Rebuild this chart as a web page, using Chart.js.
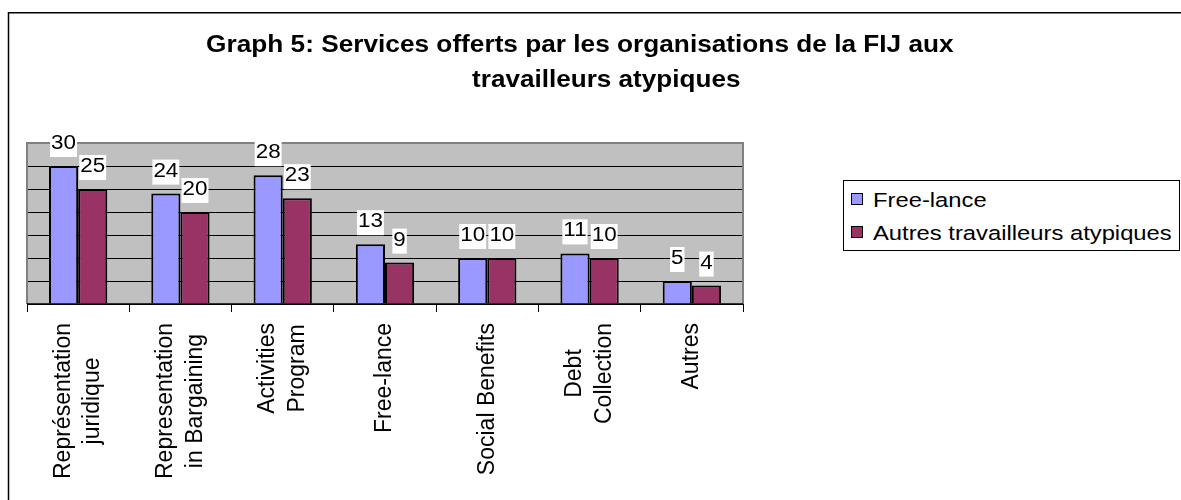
<!DOCTYPE html>
<html>
<head>
<meta charset="utf-8">
<script src="https://cdn.jsdelivr.net/npm/chart.js@4.4.0/dist/chart.umd.min.js"></script>
<style>
  body { margin: 0; background: #fff; }
  #wrap { position: relative; width: 1181px; height: 500px; overflow: hidden; font-family: "Liberation Sans", Arial, sans-serif; }
  #wrap canvas { position: absolute; left: 0; top: 0; }
  #title { position: absolute; left: 0; top: 27px; width: 1181px; text-align: center; font-weight: bold; font-size: 23px; line-height: 35px; color: #000; }
  #title span { display: inline-block; }
  #t1 { transform: translateX(-11px) scaleX(1.14); }
  #t2 { transform: translateX(16px) scaleX(1.135); }
  #legend { position: absolute; left: 843px; top: 180px; width: 337px; height: 71px; box-sizing: border-box; border: 1px solid #000; background: #fff; }
  .item { position: absolute; left: 0; white-space: nowrap; }
  .sw { position: absolute; left: 7px; width: 10px; height: 10px; border: 1.5px solid #000; }
  .txt { position: absolute; left: 29px; font-size: 20.5px; line-height: 20.5px; transform: scaleX(1.16); transform-origin: left center; }
</style>
</head>
<body>
<div id="wrap">
  <canvas id="graphsCanvas"></canvas>
  <div id="title"><span id="t1">Graph 5: Services offerts par les organisations de la FIJ aux</span><br><span id="t2">travailleurs atypiques</span></div>
  <div id="legend"></div>
</div>
<script>
// values
const categories = [
  ['Représentation', 'juridique'],
  ['Representation', 'in Bargaining'],
  ['Activities', 'Program'],
  ['Free-lance'],
  ['Social Benefits'],
  ['Debt', 'Collection'],
  ['Autres']
];
const seriesNames = ['Free-lance', 'Autres travailleurs atypiques'];
const freeLance = [30, 24, 28, 13, 10, 11, 5];
const autres = [25, 20, 23, 9, 10, 10, 4];
const COLORS = ['#9999FF', '#993366'];
const yTicks = { min: 0, max: 35, step: 5 };

// gray plot area, frame, value labels, upward category labels
const extras = {
  id: 'extras',
  beforeDraw(chart) {
    const ctx = chart.ctx, a = chart.chartArea;
    ctx.save();
    ctx.strokeStyle = '#000';
    ctx.lineWidth = 1.5;
    ctx.strokeRect(8.5, 12.75, 1300, 600);
    ctx.fillStyle = '#C0C0C0';
    ctx.fillRect(a.left, a.top, a.right - a.left, a.bottom - a.top);
    ctx.restore();
  },
  afterDatasetsDraw(chart) {
    const ctx = chart.ctx, a = chart.chartArea;
    ctx.save();
    // plot border
    ctx.strokeStyle = '#808080';
    ctx.lineWidth = 2;
    ctx.beginPath();
    ctx.moveTo(a.left, a.bottom);
    ctx.lineTo(a.left, a.top);
    ctx.lineTo(a.right, a.top);
    ctx.lineTo(a.right, a.bottom);
    ctx.stroke();
    ctx.strokeStyle = '#000';
    ctx.lineWidth = 1.5;
    ctx.beginPath();
    ctx.moveTo(a.left, a.bottom);
    ctx.lineTo(a.right, a.bottom);
    ctx.stroke();

    // category labels, reading bottom to top
    const xs = chart.scales.x;
    ctx.font = '23px "Liberation Sans", Arial, sans-serif';
    ctx.fillStyle = '#000';
    ctx.textAlign = 'center';
    ctx.textBaseline = 'middle';
    categories.forEach((lines, i) => {
      const cx = xs.getPixelForValue(i);
      const w = Math.max(...lines.map(l => ctx.measureText(l).width));
      ctx.save();
      ctx.translate(cx, a.bottom + 19 + w / 2);
      ctx.rotate(-Math.PI / 2);
      lines.forEach((l, j) => {
        ctx.fillText(l, 0, (j - (lines.length - 1) / 2) * 29.5);
      });
      ctx.restore();
    });

    // value labels with white boxes
    ctx.font = '20px "Liberation Sans", Arial, sans-serif';
    ctx.textBaseline = 'alphabetic';
    chart.data.datasets.forEach((ds, d) => {
      chart.getDatasetMeta(d).data.forEach((bar, i) => {
        const s = String(ds.data[i]);
        const w = ctx.measureText(s).width * 1.12;
        const base = bar.y - 17;
        ctx.fillStyle = '#fff';
        ctx.fillRect(bar.x - w / 2 - 1, base - 17, w + 2, 25);
        ctx.save();
        ctx.translate(bar.x, base);
        ctx.scale(1.12, 1);
        ctx.fillStyle = '#000';
        ctx.fillText(s, 0, 0);
        ctx.restore();
      });
    });
    ctx.restore();
  }
};

new Chart(document.getElementById('graphsCanvas'), {
  type: 'bar',
  data: {
    labels: categories,
    datasets: [
      { label: seriesNames[0], data: freeLance, backgroundColor: COLORS[0] },
      { label: seriesNames[1], data: autres, backgroundColor: COLORS[1] }
    ]
  },
  options: {
    responsive: true,
    maintainAspectRatio: false,
    animation: false,
    layout: { padding: { left: 27, top: 143, right: 438, bottom: 188 } },
    datasets: {
      bar: { categoryPercentage: 0.57, barPercentage: 1.0, borderColor: '#000', borderWidth: 2 }
    },
    plugins: { legend: { display: false }, title: { display: false }, tooltip: { enabled: false } },
    scales: {
      x: {
        ticks: { display: false },
        grid: { offset: true, drawOnChartArea: false, drawTicks: true, tickLength: 8, color: '#000', lineWidth: 1 },
        border: { display: false }
      },
      y: {
        min: yTicks.min, max: yTicks.max,
        ticks: { display: false, stepSize: yTicks.step },
        grid: { color: '#000', lineWidth: 1, drawTicks: false },
        border: { display: false }
      }
    }
  },
  plugins: [extras]
});

// legend boxes built from the series
const legend = document.getElementById('legend');
seriesNames.forEach((name, i) => {
  const it = document.createElement('div');
  it.className = 'item';
  it.style.top = (i * 33) + 'px';
  it.innerHTML = '<div class="sw" style="top:12px;background:' + COLORS[i] + '"></div>' +
    '<div class="txt" style="top:9px">' + name + '</div>';
  legend.appendChild(it);
});
</script>
</body>
</html>
